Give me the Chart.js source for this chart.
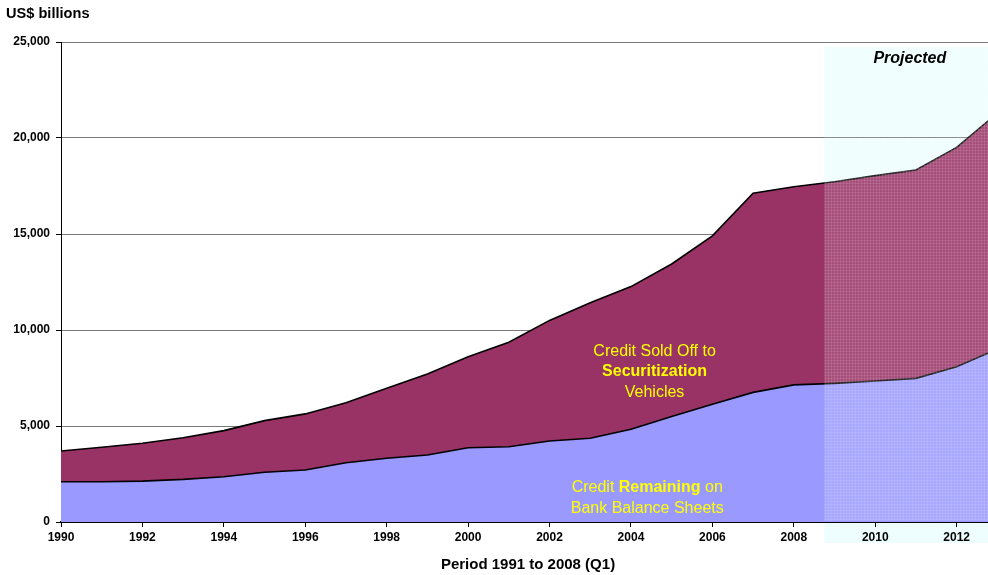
<!DOCTYPE html>
<html>
<head>
<meta charset="utf-8">
<script src="https://cdn.jsdelivr.net/npm/chart.js@4"></script>
<style>
  body { margin: 0; background: #fff; }
  #wrap { width: 988px; height: 575px; position: relative; }
</style>
</head>
<body>
<div id="wrap"><canvas id="creditChart"></canvas></div>
<script>
// years on the x axis (last one runs past the visible edge)
var years = [1990, 1991, 1992, 1993, 1994, 1995, 1996, 1997, 1998, 1999, 2000, 2001,
  2002, 2003, 2004, 2005, 2006, 2007, 2008, 2009, 2010, 2011, 2012, 2013];
// credit remaining on bank balance sheets (US$ bn)
var remaining = [2100, 2100, 2130, 2220, 2360, 2590, 2710, 3090, 3320, 3490, 3870, 3920,
  4220, 4360, 4830, 5490, 6130, 6750, 7140, 7220, 7340, 7480, 8090, 9010];
// total credit = remaining + sold off to securitization vehicles (US$ bn)
var total = [3700, 3890, 4100, 4390, 4760, 5280, 5630, 6210, 6960, 7710, 8610, 9360,
  10500, 11420, 12260, 13440, 14900, 17120, 17460, 17720, 18040, 18330, 19510, 21300];
var yTicks = [0, 5000, 10000, 15000, 20000, 25000];
var xTicks = [1990, 1992, 1994, 1996, 1998, 2000, 2002, 2004, 2006, 2008, 2010, 2012];
var projectedFrom = 2008.75;
var xEnd = 2012.77;

var FONT = "'Liberation Sans', Arial, sans-serif";

function toPoints(vals) {
  return years.map(function (y, i) { return { x: y, y: vals[i] }; });
}

// fine grid pattern for projected part
function makePattern(ctx) {
  var c = document.createElement("canvas");
  c.width = 3; c.height = 3;
  var p = c.getContext("2d");
  p.fillStyle = "rgba(255,255,255,0.10)";
  p.fillRect(0, 0, 3, 1);
  p.fillRect(0, 0, 1, 3);
  return ctx.createPattern(c, "repeat");
}

var projectedPlugin = {
  id: "projected",
  beforeDraw: function (chart) {
    var ctx = chart.ctx, a = chart.chartArea;
    var x0 = chart.scales.x.getPixelForValue(projectedFrom);
    ctx.save();
    ctx.fillStyle = "#eefefe";
    ctx.fillRect(x0, a.top + 5, a.right - x0, a.bottom - a.top + 16);
    ctx.restore();
  },
  afterDatasetsDraw: function (chart) {
    var ctx = chart.ctx, a = chart.chartArea;
    var x0 = chart.scales.x.getPixelForValue(projectedFrom);
    ctx.save();
    ctx.fillStyle = "rgba(255,255,255,0.14)";
    ctx.fillRect(x0, a.top + 5, a.right - x0, a.bottom - a.top - 6);
    ctx.fillStyle = makePattern(ctx);
    ctx.fillRect(x0, a.top + 5, a.right - x0, a.bottom - a.top - 6);
    ctx.restore();
  },
  afterDraw: function (chart) {
    var ctx = chart.ctx;
    var xs = chart.scales.x, ys = chart.scales.y;
    ctx.save();
    ctx.fillStyle = "#000";
    ctx.textAlign = "left";
    ctx.textBaseline = "middle";
    ctx.font = "bold 14.6px " + FONT;
    ctx.fillText("US$ billions", 6, 14);

    ctx.textAlign = "center";
    ctx.font = "italic bold 16px " + FONT;
    ctx.fillText("Projected", xs.getPixelForValue(2010.85), ys.getPixelForValue(24150));

    ctx.fillStyle = "#ffff00";
    var cx = xs.getPixelForValue(2004.58), cy = ys.getPixelForValue(7820);
    ctx.font = "16px " + FONT;
    ctx.fillText("Credit Sold Off to", cx, cy - 20.5);
    ctx.font = "bold 16px " + FONT;
    ctx.fillText("Securitization", cx, cy);
    ctx.font = "16px " + FONT;
    ctx.fillText("Vehicles", cx, cy + 20.5);

    // second label: mixed weight first line
    var bx = xs.getPixelForValue(2004.4), by = ys.getPixelForValue(1780);
    var p1 = "Credit ", p2 = "Remaining", p3 = " on";
    ctx.font = "16px " + FONT;
    var w1 = ctx.measureText(p1).width, w3 = ctx.measureText(p3).width;
    ctx.font = "bold 16px " + FONT;
    var w2 = ctx.measureText(p2).width;
    var sx = bx - (w1 + w2 + w3) / 2;
    ctx.textAlign = "left";
    ctx.font = "16px " + FONT;
    ctx.fillText(p1, sx, by);
    ctx.font = "bold 16px " + FONT;
    ctx.fillText(p2, sx + w1, by);
    ctx.font = "16px " + FONT;
    ctx.fillText(p3, sx + w1 + w2, by);
    ctx.textAlign = "center";
    ctx.fillText("Bank Balance Sheets", bx, by + 21);

    // x axis title
    ctx.fillStyle = "#000";
    ctx.font = "bold 15px " + FONT;
    ctx.fillText("Period 1991 to 2008 (Q1)", 528, 565);
    ctx.restore();
  }
};

var ctx = document.getElementById("creditChart").getContext("2d");
new Chart(ctx, {
  type: "line",
  data: {
    datasets: [
      {
        label: "Credit Remaining on Bank Balance Sheets",
        data: toPoints(remaining),
        backgroundColor: "#9999ff",
        borderColor: "#000",
        borderWidth: 1.6,
        pointRadius: 0,
        fill: "origin",
        tension: 0,
      },
      {
        label: "Credit Sold Off to Securitization Vehicles",
        data: toPoints(total),
        backgroundColor: "#993366",
        borderColor: "#000",
        borderWidth: 1.6,
        pointRadius: 0,
        fill: "-1",
        tension: 0,
      },
    ],
  },
  options: {
    responsive: true,
    maintainAspectRatio: false,
    animation: false,
    layout: { padding: { top: 42, right: 0, left: 0, bottom: 0 } },
    plugins: {
      legend: { display: false },
      tooltip: { enabled: false },
    },
    scales: {
      x: {
        type: "linear",
        min: 1990,
        max: xEnd,
        afterBuildTicks: function (scale) {
          scale.ticks = xTicks.map(function (v) { return { value: v }; });
        },
        afterFit: function (scale) { scale.height = 53; },
        border: { color: "#000", width: 2 },
        grid: { drawOnChartArea: false, tickLength: 5, tickColor: "#000" },
        ticks: {
          autoSkip: false,
          maxRotation: 0,
          padding: 3,
          color: "#000",
          font: { family: FONT, size: 12, weight: "bold" },
          callback: function (v) { return String(v); },
        },
      },
      y: {
        min: 0,
        max: 25000,
        afterBuildTicks: function (scale) {
          scale.ticks = yTicks.map(function (v) { return { value: v }; });
        },
        afterFit: function (scale) { scale.width = 61; },
        border: { color: "#000", width: 1 },
        grid: { color: "#7a7a7a", lineWidth: 1, tickLength: 5, tickColor: "#000" },
        ticks: {
          padding: 6,
          color: "#000",
          font: { family: FONT, size: 12, weight: "bold" },
          callback: function (v) { return v.toLocaleString("en-US"); },
        },
      },
    },
  },
  plugins: [projectedPlugin],
});
</script>
</body>
</html>
